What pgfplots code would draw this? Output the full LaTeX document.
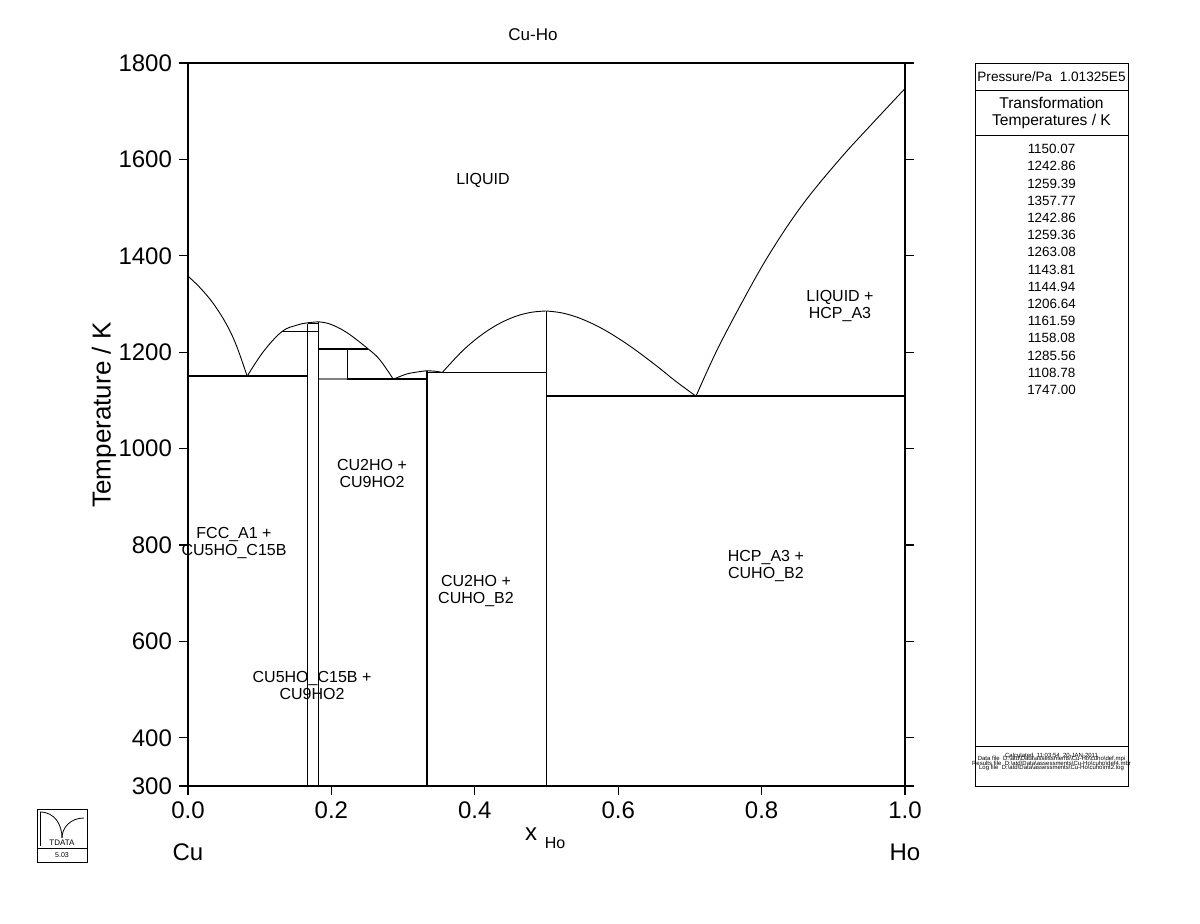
\documentclass[border=0pt]{standalone}
\usepackage{pgfplots}
\pgfplotsset{compat=1.18}
\usepackage{fontspec}
\setmainfont{Liberation Sans}
\tikzset{
  inv/.style={line width=0.8pt, black},
  lab/.style={font=\fontsize{8}{8.3}\selectfont, align=center, inner sep=0pt},
}
\begin{document}
\begin{tikzpicture}
\useasboundingbox (0,0) rectangle (600pt,-461.5pt);
\begin{axis}[
  at={(94pt,-393pt)}, anchor=south west,
  width=358.5pt, height=361.5pt, scale only axis,
  xmin=0, xmax=1, ymin=300, ymax=1800,
  xtick={0,0.2,0.4,0.6,0.8,1},
  xticklabels={0.0,0.2,0.4,0.6,0.8,1.0},
  ytick={300,400,600,800,1000,1200,1400,1600,1800},
  /pgf/number format/1000 sep={},
  /pgf/number format/assume math mode=true,
  tick align=outside,
  xtick pos=left,
  ytick pos=both,
  yticklabel pos=left,
  major tick length=4.5pt,
  every tick/.style={black, line width=0.6pt},
  axis line style={line width=0.6pt},
  tick label style={font=\fontsize{12}{14}\selectfont},
  clip=false,
  every axis plot/.append style={no markers},
]
% liquidus curves
\addplot[black, line width=0.45pt, smooth, tension=0.6] coordinates {(0,1357.77)(0.0167,1334)(0.0353,1301)(0.054,1257)(0.068,1212)(0.0825,1150.07)};
\addplot[black, line width=0.45pt, smooth, tension=0.6] coordinates {(0.0825,1150.07)(0.105,1201)(0.131,1242.86)(0.1516,1256)(0.1667,1261)(0.1818,1263.08)};
\addplot[black, line width=0.45pt, smooth, tension=0.6] coordinates {(0.1818,1263.08)(0.198,1258.5)(0.2213,1241)(0.2515,1206.64)(0.2678,1183.8)(0.2864,1143.81)};
\addplot[black, line width=0.45pt, smooth, tension=0.6] coordinates {(0.2864,1143.81)(0.305,1154.8)(0.3236,1159.8)(0.3333,1161.59)};
\addplot[black, line width=0.45pt, smooth, tension=0.6] coordinates {(0.3333,1161.59)(0.345,1160.5)(0.3547,1158.08)};
\addplot[black, line width=0.45pt, smooth, tension=0.6] coordinates {(0.3547,1158.08)(0.38,1198.6)(0.40,1225.2)(0.42,1246.9)(0.44,1263.8)(0.46,1275.9)(0.48,1283.1)(0.5,1285.56)};
\addplot[black, line width=0.45pt, smooth, tension=0.6] coordinates {(0.5,1285.56)(0.52,1282)(0.54,1274)(0.56,1262)(0.58,1247)(0.60,1229)(0.62,1209)(0.64,1187)(0.66,1164)(0.68,1140)(0.7085,1108.78)};
\addplot[black, line width=0.45pt, smooth, tension=0.6] coordinates {(0.7085,1108.78)(0.7364,1200)(0.770,1296)(0.8094,1400)(0.856,1504)(0.9093,1601)(0.956,1677)(1,1747)};
% invariant lines
\addplot[inv] coordinates {(0,1150.07)(0.1667,1150.07)};
\addplot[inv] coordinates {(0.131,1242.86)(0.1818,1242.86)};
\addplot[inv] coordinates {(0.1667,1259.39)(0.1818,1259.39)};
\addplot[inv] coordinates {(0.1818,1206.64)(0.2515,1206.64)};
\addplot[inv, gray] coordinates {(0.1818,1144.94)(0.2222,1144.94)};
\addplot[inv] coordinates {(0.2222,1143.81)(0.3333,1143.81)};
\addplot[inv] coordinates {(0.3333,1158.08)(0.5,1158.08)};
\addplot[inv] coordinates {(0.5,1108.78)(1,1108.78)};
% compounds
\addplot[inv] coordinates {(0.1667,300)(0.1667,1259.39)};
\addplot[inv] coordinates {(0.1818,300)(0.1818,1263.08)};
\addplot[inv] coordinates {(0.2222,1143.81)(0.2222,1206.64)};
\addplot[inv] coordinates {(0.3333,300)(0.3333,1161.59)};
\addplot[inv] coordinates {(0.5,300)(0.5,1285.56)};
% phase labels
\node[lab] at (axis cs:0.4114,1557) {LIQUID};
\node[lab] at (axis cs:0.9093,1296) {LIQUID +\\HCP\_A3};
\node[lab] at (axis cs:0.2566,949) {CU2HO +\\CU9HO2};
\node[lab] at (axis cs:0.0642,804) {FCC\_A1 +\\CU5HO\_C15B};
\node[lab] at (axis cs:0.4017,705) {CU2HO +\\CUHO\_B2};
\node[lab] at (axis cs:0.806,756) {HCP\_A3 +\\CUHO\_B2};
\node[lab] at (axis cs:0.173,509) {CU5HO\_C15B +\\CU9HO2};
\end{axis}
\begin{scope}[x=0.5pt, y=-0.5pt]
% titles and axis labels
\node[font=\fontsize{8.5}{9}\selectfont] at (533,35) {Cu-Ho};
\node[rotate=90, font=\fontsize{13}{14}\selectfont] at (104,415) {Temperature / K};
\node[font=\fontsize{12}{14}\selectfont] at (531,834) {x};
\node[font=\fontsize{8}{9}\selectfont] at (555,843) {Ho};
\node[font=\fontsize{12}{14}\selectfont] at (188,852) {Cu};
\node[font=\fontsize{12}{14}\selectfont] at (905,852) {Ho};
% right panel
\draw[line width=0.5pt] (975,63) rectangle (1128,786);
\draw[line width=0.5pt] (975,90) -- (1128,90);
\draw[line width=0.5pt] (975,135) -- (1128,135);
\draw[line width=0.5pt] (975,746) -- (1128,746);
\node[font=\fontsize{6.8}{7}\selectfont] at (1051.5,77) {Pressure/Pa\ \ 1.01325E5};
\node[font=\fontsize{7.8}{8.7}\selectfont, align=center] at (1051.5,113) {Transformation\\Temperatures / K};
\foreach \v [count=\i from 0] in {1150.07,1242.86,1259.39,1357.77,1242.86,1259.36,1263.08,1143.81,1144.94,1206.64,1161.59,1158.08,1285.56,1108.78,1747.00}
  \node[font=\fontsize{6.7}{7}\selectfont] at (1051.5,{149+17.2*\i}) {\v};
\node[font=\fontsize{3}{3}\selectfont, inner sep=0pt] at (1051.5,755) {Calculated\ \ 11:03:54\ \ 20-JAN-2011};
\node[font=\fontsize{3}{3}\selectfont, inner sep=0pt] at (1051.5,759.3) {Data file\ \ D:\textbackslash atd\textbackslash Data\textbackslash assessments\textbackslash Cu-Ho\textbackslash cuho\textbackslash def.mpi};
\node[font=\fontsize{3}{3}\selectfont, inner sep=0pt] at (1051.5,763.5) {Results file\ \ D:\textbackslash atd\textbackslash Data\textbackslash assessments\textbackslash Cu-Ho\textbackslash cuho\textbackslash def4.mbr};
\node[font=\fontsize{3}{3}\selectfont, inner sep=0pt] at (1051.5,767.7) {Log file\ \ D:\textbackslash atd\textbackslash Data\textbackslash assessments\textbackslash Cu-Ho\textbackslash cuho\textbackslash mt2.log};
% logo
\draw[line width=0.4pt] (37,809) rectangle (87,862);
\draw[line width=0.4pt] (37,848) -- (87,848);
\draw[line width=0.4pt] (40,812) .. controls (55,812) and (62,825) .. (62,838);
\draw[line width=0.4pt] (84,818) .. controls (70,818) and (62,828) .. (62,838);
\draw[line width=0.3pt] (40,812) -- (40,846);
\node[font=\fontsize{4}{4}\selectfont, inner sep=0pt] at (62,843) {TDATA};
\node[font=\fontsize{3.5}{4}\selectfont, inner sep=0pt] at (62,855) {5.03};
\end{scope}
\end{tikzpicture}
\end{document}
